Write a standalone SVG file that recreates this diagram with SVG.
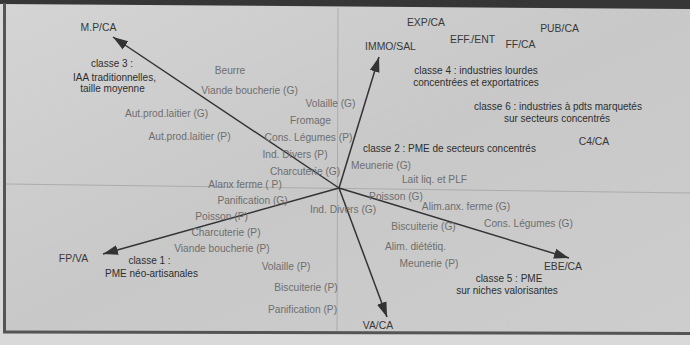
<svg xmlns="http://www.w3.org/2000/svg" width="690" height="345" viewBox="0 0 690 345">
<defs>
<linearGradient id="bg" x1="0" y1="0" x2="1" y2="1">
<stop offset="0" stop-color="#d4d4d4"/>
<stop offset="0.5" stop-color="#c8c8c8"/>
<stop offset="1" stop-color="#cdcdcd"/>
</linearGradient>
<marker id="ah" markerUnits="userSpaceOnUse" markerWidth="16" markerHeight="12" viewBox="0 0 16 12" refX="15" refY="6" orient="auto">
<path d="M0,1 L15,6 L0,11 Z" fill="#333"/>
</marker>
<style>
text{font-family:"Liberation Sans",Arial,sans-serif;text-anchor:middle}
.it{font-size:10.2px;fill:#6e6e6e}
.ax{font-size:10.4px;fill:#383838}
.cl{font-size:10px;fill:#2e2e2e}
.ref{stroke:#a4a4a4;stroke-width:0.8;fill:none}
.arr{stroke:#333;stroke-width:1.5;fill:none;marker-end:url(#ah)}
</style>
</defs>
<rect x="0" y="0" width="690" height="345" fill="#d9d9d9"/>
<rect x="5" y="3" width="685" height="329" fill="url(#bg)"/>
<polygon points="0,0 690,0 690,9 0,4" fill="#363636"/>
<line x1="4.5" y1="3" x2="4.5" y2="333" stroke="#555" stroke-width="3"/>
<line x1="3" y1="332" x2="690" y2="333.5" stroke="#555" stroke-width="3"/>

<g id="reference-lines">
<line class="ref" x1="6" y1="184" x2="690" y2="193"/>
<line class="ref" x1="338" y1="8" x2="337" y2="331"/>
</g>

<g id="connectors">
<line class="arr" x1="339" y1="188" x2="113" y2="37"/>
<line class="arr" x1="339" y1="188" x2="379" y2="57"/>
<line class="arr" x1="339" y1="188" x2="569" y2="258"/>
<line class="arr" x1="339" y1="188" x2="387" y2="317"/>
<line class="arr" x1="339" y1="188" x2="103" y2="254"/>
</g>

<g id="axis-MP-CA"><text class="ax" x="98.5" y="31">M.P/CA</text></g>
<g id="axis-IMMO-SAL"><text class="ax" x="390.5" y="50">IMMO/SAL</text></g>
<g id="axis-EXP-CA"><text class="ax" x="426" y="26">EXP/CA</text></g>
<g id="axis-EFF-ENT"><text class="ax" x="472.5" y="43">EFF./ENT</text></g>
<g id="axis-FF-CA"><text class="ax" x="520.5" y="48">FF/CA</text></g>
<g id="axis-PUB-CA"><text class="ax" x="559.5" y="32">PUB/CA</text></g>
<g id="axis-C4-CA"><text class="ax" x="594" y="145">C4/CA</text></g>
<g id="axis-EBE-CA"><text class="ax" x="563" y="270">EBE/CA</text></g>
<g id="axis-VA-CA"><text class="ax" x="378" y="329">VA/CA</text></g>
<g id="axis-FP-VA"><text class="ax" x="73.5" y="262">FP/VA</text></g>

<g id="classe-3"><text class="cl" x="112" y="67">classe 3 :</text><text class="cl" x="114.5" y="81">IAA traditionnelles,</text><text class="cl" x="112.5" y="92">taille moyenne</text></g>
<g id="classe-4"><text class="cl" x="476" y="74">classe 4 : industries lourdes</text><text class="cl" x="476" y="86">concentrées et exportatrices</text></g>
<g id="classe-6"><text class="cl" x="558" y="110">classe 6 : industries à pdts marquetés</text><text class="cl" x="557" y="122">sur secteurs concentrés</text></g>
<g id="classe-2"><text class="cl" x="449.5" y="152">classe 2 : PME de secteurs concentrés</text></g>
<g id="classe-5"><text class="cl" x="509" y="282">classe 5 : PME</text><text class="cl" x="507" y="294">sur niches valorisantes</text></g>
<g id="classe-1"><text class="cl" x="149.5" y="264">classe 1 :</text><text class="cl" x="151.5" y="277">PME néo-artisanales</text></g>

<g id="item-beurre"><text class="it" x="230" y="74">Beurre</text></g>
<g id="item-viande-g"><text class="it" x="249.5" y="94">Viande boucherie (G)</text></g>
<g id="item-autprod-g"><text class="it" x="166.5" y="117">Aut.prod.laitier (G)</text></g>
<g id="item-autprod-p"><text class="it" x="189.5" y="140">Aut.prod.laitier (P)</text></g>
<g id="item-volaille-g"><text class="it" x="330.5" y="107">Volaille (G)</text></g>
<g id="item-fromage"><text class="it" x="310.5" y="124">Fromage</text></g>
<g id="item-conslegumes-p"><text class="it" x="308.5" y="141">Cons. Légumes (P)</text></g>
<g id="item-inddivers-p"><text class="it" x="295" y="158">Ind. Divers (P)</text></g>
<g id="item-charcuterie-g"><text class="it" x="305" y="175">Charcuterie (G)</text></g>
<g id="item-alanx-p"><text class="it" x="245" y="188">Alanx ferme ( P)</text></g>
<g id="item-panification-g"><text class="it" x="252.5" y="204">Panification (G)</text></g>
<g id="item-poisson-p"><text class="it" x="221.5" y="220">Poisson (P)</text></g>
<g id="item-charcuterie-p"><text class="it" x="226" y="236">Charcuterie (P)</text></g>
<g id="item-viande-p"><text class="it" x="222" y="252">Viande boucherie (P)</text></g>
<g id="item-volaille-p"><text class="it" x="286" y="270">Volaille (P)</text></g>
<g id="item-biscuiterie-p"><text class="it" x="306" y="291">Biscuiterie (P)</text></g>
<g id="item-panification-p"><text class="it" x="302.5" y="313">Panification (P)</text></g>
<g id="item-inddivers-g"><text class="it" x="343" y="213">Ind. Divers (G)</text></g>
<g id="item-meunerie-g"><text class="it" x="381" y="169">Meunerie (G)</text></g>
<g id="item-laitliq"><text class="it" x="434.5" y="183">Lait liq. et PLF</text></g>
<g id="item-poisson-g"><text class="it" x="396" y="200">Poisson (G)</text></g>
<g id="item-alimanx-g"><text class="it" x="466" y="210">Alim.anx. ferme (G)</text></g>
<g id="item-conslegumes-g"><text class="it" x="528.5" y="227">Cons. Légumes (G)</text></g>
<g id="item-biscuiterie-g"><text class="it" x="423.5" y="230">Biscuiterie (G)</text></g>
<g id="item-alimdietetiq"><text class="it" x="415.5" y="250">Alim. diététiq.</text></g>
<g id="item-meunerie-p"><text class="it" x="429" y="267">Meunerie (P)</text></g>
</svg>
